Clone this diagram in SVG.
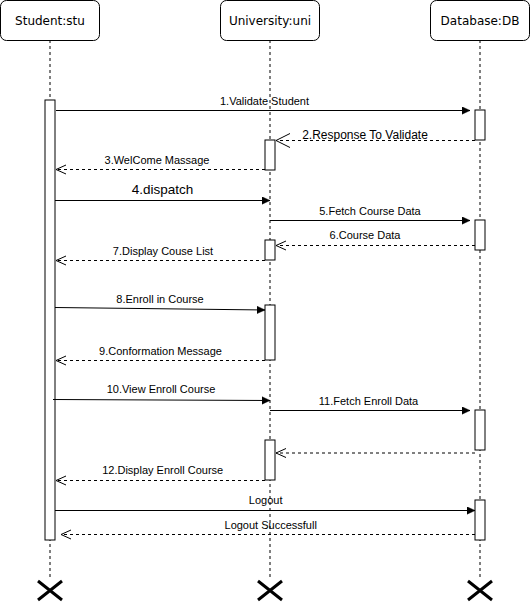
<svg xmlns="http://www.w3.org/2000/svg" width="531" height="602" viewBox="0 0 531 602">
<style>
.hdr{fill:#fff;stroke:#000;stroke-width:1}
.hdrt{font-family:"DejaVu Sans",sans-serif;font-size:12px;fill:#000;text-anchor:middle}
.life{stroke:#000;stroke-width:1;stroke-dasharray:3 3;fill:none}
.act{fill:#fff;stroke:#000;stroke-width:1}
.msg{stroke:#000;stroke-width:1;fill:none}
.ret{stroke:#000;stroke-width:1;stroke-dasharray:3 3;fill:none}
.lbl{font-family:"Liberation Sans",Arial,sans-serif;font-size:11px;fill:#000;text-anchor:middle}
.x{stroke:#000;stroke-width:3;fill:none}
</style>
<defs>
<marker id="fill" markerUnits="userSpaceOnUse" markerWidth="10" markerHeight="10" refX="8" refY="4" orient="auto">
<path d="M0,0.3 L8,4 L0,7.7 z" fill="#000" stroke="#000" stroke-width="0.5"/>
</marker>
<marker id="open" markerUnits="userSpaceOnUse" markerWidth="12" markerHeight="12" refX="10" refY="5" orient="auto">
<path d="M0,0.5 L10,5 L0,9.5" fill="none" stroke="#000" stroke-width="1"/>
</marker>
<marker id="openL" markerUnits="userSpaceOnUse" markerWidth="16" markerHeight="16" refX="14" refY="7.5" orient="auto">
<path d="M0,0.5 L14,7.5 L0,14.5" fill="none" stroke="#000" stroke-width="1"/>
</marker>
</defs>

<g id="lifelines">
<line class="life" x1="50" y1="40" x2="50" y2="578"/>
<line class="life" x1="270" y1="40" x2="270" y2="578"/>
<line class="life" x1="480" y1="40" x2="480" y2="578"/>
</g>

<g id="student">
<rect class="hdr" x="0.5" y="0.5" width="99" height="40" rx="6"/>
<text class="hdrt" x="50" y="24.5">Student:stu</text>
<rect class="act" x="45" y="100" width="10" height="440"/>
<path class="x" d="M38,581 L62,600 M62,581 L38,600"/>
</g>

<g id="university">
<rect class="hdr" x="220.5" y="0.5" width="99" height="40" rx="6"/>
<text class="hdrt" x="270" y="24.5">University:uni</text>
<rect class="act" x="265" y="140" width="10" height="30"/>
<rect class="act" x="265" y="240" width="10" height="20"/>
<rect class="act" x="265" y="305" width="10" height="55"/>
<rect class="act" x="265" y="440" width="10" height="40"/>
<path class="x" d="M258,581 L282,600 M282,581 L258,600"/>
</g>

<g id="database">
<rect class="hdr" x="430.5" y="0.5" width="99" height="40" rx="6"/>
<text class="hdrt" x="480" y="24.5">Database:DB</text>
<rect class="act" x="475" y="110" width="10" height="30"/>
<rect class="act" x="475" y="220" width="10" height="30"/>
<rect class="act" x="475" y="410" width="10" height="40"/>
<rect class="act" x="475" y="500" width="10" height="40"/>
<path class="x" d="M468,581 L492,600 M492,581 L468,600"/>
</g>

<g id="connectors">
<line class="msg" x1="56" y1="110.5" x2="470" y2="110.5" marker-end="url(#fill)"/>
<line class="ret" x1="475" y1="140.5" x2="276" y2="140.5" marker-end="url(#openL)"/>
<line class="ret" x1="265" y1="169.5" x2="56" y2="169.5" marker-end="url(#open)"/>
<line class="msg" x1="55" y1="200.5" x2="270" y2="200.5" marker-end="url(#fill)"/>
<line class="msg" x1="270" y1="220.5" x2="470" y2="220.5" marker-end="url(#fill)"/>
<line class="ret" x1="475" y1="245.5" x2="276" y2="245.5" marker-end="url(#open)"/>
<line class="ret" x1="265" y1="260.5" x2="56" y2="260.5" marker-end="url(#open)"/>
<line class="msg" x1="55" y1="307.5" x2="265" y2="310" marker-end="url(#fill)"/>
<line class="ret" x1="265" y1="360.5" x2="56" y2="360.5" marker-end="url(#open)"/>
<line class="msg" x1="53" y1="399.5" x2="270" y2="400.5" marker-end="url(#fill)"/>
<line class="msg" x1="270" y1="410.5" x2="470" y2="410.5" marker-end="url(#fill)"/>
<line class="ret" x1="475" y1="453" x2="276" y2="453" marker-end="url(#open)"/>
<line class="ret" x1="265" y1="480.5" x2="56" y2="480.5" marker-end="url(#open)"/>
<line class="msg" x1="55" y1="510.5" x2="475" y2="510.5" marker-end="url(#fill)"/>
<line class="ret" x1="475" y1="534.5" x2="61" y2="534.5" marker-end="url(#open)"/>
</g>

<g id="labels">
<text class="lbl" x="264.5" y="105">1.Validate Student</text>
<text class="lbl" x="365" y="138.5" style="font-size:12px">2.Response To Validate</text>
<text class="lbl" x="157" y="164">3.WelCome Massage</text>
<text class="lbl" x="162.5" y="194" style="font-size:13.5px">4.dispatch</text>
<text class="lbl" x="370" y="214.5">5.Fetch Course Data</text>
<text class="lbl" x="365" y="238.5">6.Course Data</text>
<text class="lbl" x="163" y="255">7.Display Couse List</text>
<text class="lbl" x="160" y="303">8.Enroll in Course</text>
<text class="lbl" x="160.5" y="355">9.Conformation Message</text>
<text class="lbl" x="161" y="393">10.View Enroll Course</text>
<text class="lbl" x="368.5" y="405">11.Fetch Enroll Data</text>
<text class="lbl" x="162.7" y="474">12.Display Enroll Course</text>
<text class="lbl" x="265.7" y="504">Logout</text>
<text class="lbl" x="270.7" y="528.5">Logout Successfull</text>
</g>
</svg>
